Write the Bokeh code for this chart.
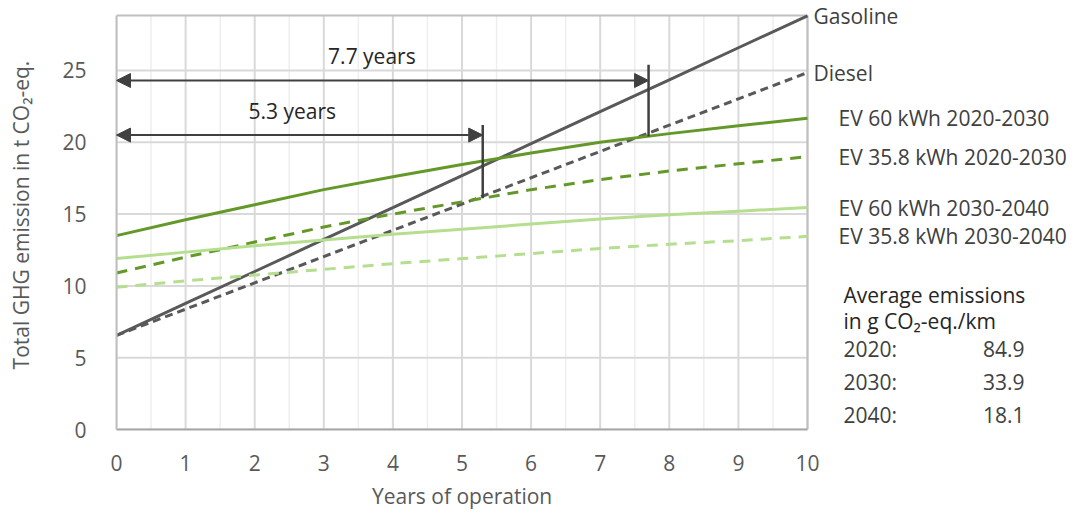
from bokeh.plotting import figure
from bokeh.models import Label, Arrow, NormalHead, FixedTicker, Range1d, Title
from bokeh.embed import file_html
from bokeh.resources import INLINE

# Cumulative greenhouse-gas emissions (t CO2-eq.) per year of operation
years = list(range(11))
gasoline = [6.55, 8.78, 11.0, 13.23, 15.45, 17.68, 19.9, 22.13, 24.35, 26.58, 28.8]
diesel = [6.55, 8.38, 10.21, 12.04, 13.87, 15.7, 17.53, 19.36, 21.19, 23.02, 24.85]
ev60_2020 = [13.5, 14.6, 15.65, 16.7, 17.6, 18.45, 19.25, 20.0, 20.6, 21.15, 21.67]
ev358_2020 = [10.9, 12.0, 13.05, 14.1, 15.0, 15.85, 16.7, 17.4, 18.0, 18.5, 19.0]
ev60_2030 = [11.9, 12.35, 12.8, 13.2, 13.6, 13.95, 14.3, 14.65, 14.95, 15.2, 15.45]
ev358_2030 = [9.9, 10.35, 10.75, 11.15, 11.55, 11.9, 12.25, 12.6, 12.9, 13.15, 13.45]

series_names = ["Gasoline", "Diesel", "EV 60 kWh 2020-2030", "EV 35.8 kWh 2020-2030",
                "EV 60 kWh 2030-2040", "EV 35.8 kWh 2030-2040"]
series_values = [gasoline, diesel, ev60_2020, ev358_2020, ev60_2030, ev358_2030]

# Axis ticks
x_ticks = list(range(11))
x_minor = [i + 0.5 for i in range(10)]
y_ticks = [0, 5, 10, 15, 20, 25]
X_MAX = 10
Y_MAX = 28.83

# Break-even brackets
payback_years = [5.3, 7.7]
payback_labels = ["5.3 years", "7.7 years"]
arrow_levels = [20.5, 24.3]
bracket_bottom = [16.1, 20.4]
bracket_top = [21.2, 25.4]

# Grid electricity mix
mix_years = ["2020:", "2030:", "2040:"]
mix_values = ["84.9", "33.9", "18.1"]

FONT = "Open Sans"
FS = "21px"
DARK_GREEN = "#64992a"
LIGHT_GREEN = "#b5df8f"
GREY = "#595959"
BORDER = "#bfbfbf"
INK = "#404040"

styles = [
    dict(color=GREY, dash="solid", x_off=6),
    dict(color=GREY, dash="8 5", x_off=6),
    dict(color=DARK_GREEN, dash="solid", x_off=31),
    dict(color=DARK_GREEN, dash="11 8", x_off=31),
    dict(color=LIGHT_GREEN, dash="solid", x_off=31),
    dict(color=LIGHT_GREEN, dash="11 8", x_off=31),
]

W, H = 1076, 515
LEFT, TOP, BOTTOM, PLOT_RIGHT = 116, 15, 84, 807
x_scale = (PLOT_RIGHT - LEFT) / X_MAX            # px per year
y_scale = (H - TOP - BOTTOM) / Y_MAX             # px per t CO2-eq.

# The frame spans to the right and top edges so that the end labels stay
# inside it; the plotting area proper is boxed at X_MAX / Y_MAX.
p = figure(width=W, height=H,
           x_range=Range1d(0, (W - LEFT) / x_scale),
           y_range=Range1d(0, Y_MAX + TOP / y_scale),
           min_border_left=LEFT, min_border_right=0, min_border_top=0,
           min_border_bottom=BOTTOM, output_backend="svg", toolbar_location=None)

p.background_fill_color = "white"
p.border_fill_color = "white"
p.outline_line_color = None
p.xgrid.grid_line_color = None
p.ygrid.grid_line_color = None

# Gridlines and plot-area box
p.segment(x0=x_minor, y0=[0] * len(x_minor), x1=x_minor, y1=[Y_MAX] * len(x_minor),
          line_color="#eeeeee", line_width=1.5)
p.segment(x0=x_ticks, y0=[0] * len(x_ticks), x1=x_ticks, y1=[Y_MAX] * len(x_ticks),
          line_color="#d9d9d9", line_width=2)
p.segment(x0=[0] * len(y_ticks), y0=y_ticks, x1=[X_MAX] * len(y_ticks), y1=y_ticks,
          line_color="#d9d9d9", line_width=2)
p.segment(x0=[0, X_MAX], y0=[Y_MAX, 0], x1=[X_MAX, X_MAX], y1=[Y_MAX, Y_MAX],
          line_color=BORDER, line_width=2)

p.xaxis.ticker = FixedTicker(ticks=x_ticks)
p.yaxis.ticker = FixedTicker(ticks=y_ticks)
p.xaxis.bounds = (0, X_MAX)
p.yaxis.bounds = (0, Y_MAX)

for ax in (p.xaxis, p.yaxis):
    ax.major_tick_line_color = None
    ax.minor_tick_line_color = None
    ax.major_label_text_font = FONT
    ax.major_label_text_font_size = FS
    ax.major_label_text_color = GREY
    ax.axis_label_text_font = FONT
    ax.axis_label_text_font_size = FS
    ax.axis_label_text_color = GREY
    ax.axis_label_text_font_style = "normal"

p.xaxis.axis_line_color = "#a6a6a6"
p.xaxis.axis_line_width = 2
p.yaxis.axis_line_color = BORDER
p.yaxis.axis_line_width = 2
p.yaxis.axis_label = "Total GHG emission in t CO\u2082-eq."
p.xaxis.major_label_standoff = 19
p.yaxis.major_label_standoff = 24
p.yaxis.axis_label_standoff = 24

# x-axis title, centred under the boxed area (offset measured from the frame's left edge)
x_title = Title(text="Years of operation", align="left", text_font=FONT,
                text_font_size=FS, text_font_style="normal", text_color=GREY,
                offset=(PLOT_RIGHT - LEFT) / 2 - 90, standoff=12)
p.add_layout(x_title, "below")

# Emission curves with their end labels
for name, vals, st in zip(series_names, series_values, styles):
    p.line(years, vals, line_color=st["color"], line_width=3, line_dash=st["dash"])
    p.add_layout(Label(x=years[-1], y=vals[-1], text=name, x_offset=st["x_off"],
                       text_baseline="middle", text_font=FONT, text_font_size=FS,
                       text_color=INK))

# Break-even arrows and brackets
for yrs, lab, ay, b0, b1 in zip(payback_years, payback_labels, arrow_levels,
                                bracket_bottom, bracket_top):
    p.add_layout(Arrow(x_start=yrs, y_start=ay, x_end=0, y_end=ay,
                       line_color=INK, line_width=2,
                       start=NormalHead(size=14, fill_color=INK, line_color=INK),
                       end=NormalHead(size=14, fill_color=INK, line_color=INK)))
    p.segment(x0=[yrs], y0=[b0], x1=[yrs], y1=[b1], line_color=INK, line_width=2.5)
    p.add_layout(Label(x=yrs * 0.48, y=ay, text=lab, y_offset=24, text_align="center",
                       text_baseline="middle", text_font=FONT, text_font_size=FS,
                       text_color="#262626"))

# Grid-mix note (screen units are measured from the frame's lower-left corner)
frame_bottom = H - BOTTOM
NOTE_X, VALUE_X = 843 - LEFT, 1024 - LEFT
for text, py in (("Average emissions", 296), ("in g CO\u2082-eq./km", 322)):
    p.add_layout(Label(x=NOTE_X, y=frame_bottom - py, x_units="screen", y_units="screen",
                       text=text, text_baseline="middle", text_font=FONT,
                       text_font_size=FS, text_color="#262626"))
for i, (yr, val) in enumerate(zip(mix_years, mix_values)):
    sy = frame_bottom - (350 + 33 * i)
    p.add_layout(Label(x=NOTE_X, y=sy, x_units="screen", y_units="screen", text=yr,
                       text_baseline="middle", text_font=FONT, text_font_size=FS,
                       text_color=INK))
    p.add_layout(Label(x=VALUE_X, y=sy, x_units="screen", y_units="screen", text=val,
                       text_align="right", text_baseline="middle", text_font=FONT,
                       text_font_size=FS, text_color=INK))

open("out.html", "w").write(file_html(p, INLINE))
